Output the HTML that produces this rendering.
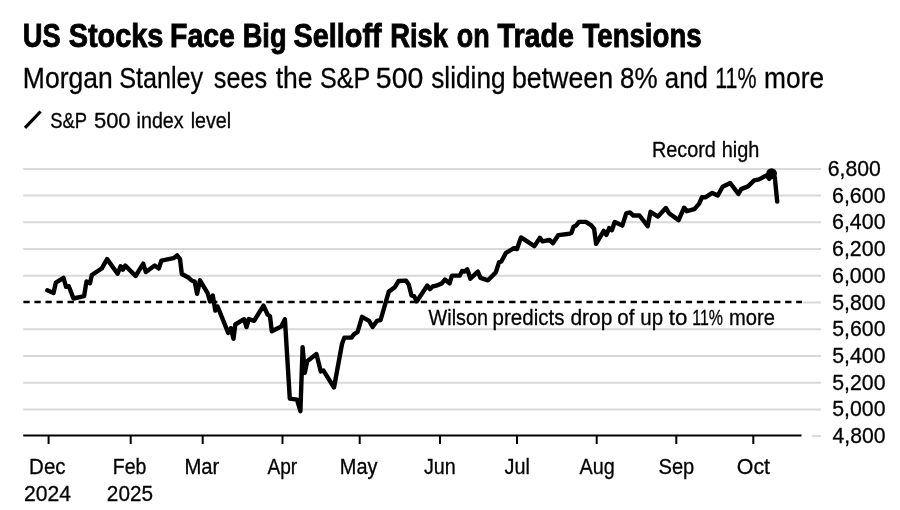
<!DOCTYPE html>
<html><head><meta charset="utf-8">
<style>
html,body{margin:0;padding:0;background:#fff;}
body{width:900px;height:510px;overflow:hidden;position:relative;}
svg{position:absolute;left:0;top:0;font-family:"Liberation Sans",sans-serif;filter:grayscale(1);}
text{fill:#000;} .r{stroke:#000;stroke-width:0.3px;}
</style></head><body>
<svg width="900" height="510" viewBox="0 0 900 510">
<text transform="translate(22.86,46.5) scale(0.8219,1)" font-size="33.2" font-weight="bold" stroke="#000" stroke-width="0.9">US</text>
<text transform="translate(68.66,46.5) scale(0.8701,1)" font-size="33.2" font-weight="bold" stroke="#000" stroke-width="0.9">Stocks</text>
<text transform="translate(170.10,46.5) scale(0.8560,1)" font-size="33.2" font-weight="bold" stroke="#000" stroke-width="0.9">Face</text>
<text transform="translate(242.68,46.5) scale(0.8198,1)" font-size="33.2" font-weight="bold" stroke="#000" stroke-width="0.9">Big</text>
<text transform="translate(293.46,46.5) scale(0.8691,1)" font-size="33.2" font-weight="bold" stroke="#000" stroke-width="0.9">Selloff</text>
<text transform="translate(390.17,46.5) scale(0.8244,1)" font-size="33.2" font-weight="bold" stroke="#000" stroke-width="0.9">Risk</text>
<text transform="translate(456.75,46.5) scale(0.8115,1)" font-size="33.2" font-weight="bold" stroke="#000" stroke-width="0.9">on</text>
<text transform="translate(497.48,46.5) scale(0.8635,1)" font-size="33.2" font-weight="bold" stroke="#000" stroke-width="0.9">Trade</text>
<text transform="translate(582.50,46.5) scale(0.8316,1)" font-size="33.2" font-weight="bold" stroke="#000" stroke-width="0.9">Tensions</text>

<text transform="translate(22.83,87.7) scale(0.8837,1)" font-size="30" font-weight="normal" class="r">Morgan</text>
<text transform="translate(119.17,87.7) scale(0.8404,1)" font-size="30" font-weight="normal" class="r">Stanley</text>
<text transform="translate(213.79,87.7) scale(0.8415,1)" font-size="30" font-weight="normal" class="r">sees</text>
<text transform="translate(275.70,87.7) scale(0.8840,1)" font-size="30" font-weight="normal" class="r">the</text>
<text transform="translate(319.97,87.7) scale(0.8373,1)" font-size="30" font-weight="normal" class="r">S&amp;P</text>
<text transform="translate(375.86,87.7) scale(0.9482,1)" font-size="30" font-weight="normal" class="r">500</text>
<text transform="translate(431.27,87.7) scale(0.8737,1)" font-size="30" font-weight="normal" class="r">sliding</text>
<text transform="translate(511.89,87.7) scale(0.8927,1)" font-size="30" font-weight="normal" class="r">between</text>
<text transform="translate(619.98,87.7) scale(0.8681,1)" font-size="30" font-weight="normal" class="r">8%</text>
<text transform="translate(664.81,87.7) scale(0.8621,1)" font-size="30" font-weight="normal" class="r">and</text>
<text transform="translate(715.17,87.7) scale(0.7140,1)" font-size="30" font-weight="normal" class="r">11%</text>
<text transform="translate(764.06,87.7) scale(0.8779,1)" font-size="30" font-weight="normal" class="r">more</text>

<line x1="25" y1="127.8" x2="40.6" y2="111.5" stroke="#000" stroke-width="3.2"/>
<text transform="translate(50.17,127.9) scale(0.8198,1)" font-size="22.5" font-weight="normal" class="r">S&amp;P</text>
<text transform="translate(93.92,127.9) scale(0.9762,1)" font-size="22.5" font-weight="normal" class="r">500</text>
<text transform="translate(136.58,127.9) scale(0.8762,1)" font-size="22.5" font-weight="normal" class="r">index</text>
<text transform="translate(190.68,127.9) scale(0.8764,1)" font-size="22.5" font-weight="normal" class="r">level</text>

<line x1="23.2" x2="821" y1="168.90" y2="168.90" stroke="#d9d9d9" stroke-width="2"/>
<line x1="23.2" x2="821" y1="195.62" y2="195.62" stroke="#d9d9d9" stroke-width="2"/>
<line x1="23.2" x2="821" y1="222.34" y2="222.34" stroke="#d9d9d9" stroke-width="2"/>
<line x1="23.2" x2="821" y1="249.06" y2="249.06" stroke="#d9d9d9" stroke-width="2"/>
<line x1="23.2" x2="821" y1="275.78" y2="275.78" stroke="#d9d9d9" stroke-width="2"/>
<line x1="802.5" x2="821" y1="302.50" y2="302.50" stroke="#d9d9d9" stroke-width="2"/>
<line x1="23.2" x2="821" y1="329.22" y2="329.22" stroke="#d9d9d9" stroke-width="2"/>
<line x1="23.2" x2="821" y1="355.94" y2="355.94" stroke="#d9d9d9" stroke-width="2"/>
<line x1="23.2" x2="821" y1="382.66" y2="382.66" stroke="#d9d9d9" stroke-width="2"/>
<line x1="23.2" x2="821" y1="409.38" y2="409.38" stroke="#d9d9d9" stroke-width="2"/>
<line x1="811.8" x2="821" y1="436.10" y2="436.10" stroke="#d9d9d9" stroke-width="2"/>

<line x1="23.2" x2="801.5" y1="435.6" y2="435.6" stroke="#000" stroke-width="2"/>
<line x1="48.6" x2="48.6" y1="435" y2="444" stroke="#000" stroke-width="2"/>
<text transform="translate(29.12,473.5) scale(0.9422,1)" font-size="21.8" font-weight="normal" class="r">Dec</text>
<text transform="translate(23.94,501.4) scale(0.9688,1)" font-size="21.8" font-weight="normal" class="r">2024</text>
<line x1="130.7" x2="130.7" y1="435" y2="444" stroke="#000" stroke-width="2"/>
<text transform="translate(112.80,473.5) scale(0.8951,1)" font-size="21.8" font-weight="normal" class="r">Feb</text>
<text transform="translate(106.86,501.4) scale(0.9510,1)" font-size="21.8" font-weight="normal" class="r">2025</text>
<line x1="202.7" x2="202.7" y1="435" y2="444" stroke="#000" stroke-width="2"/>
<text transform="translate(184.44,473.5) scale(0.9293,1)" font-size="21.8" font-weight="normal" class="r">Mar</text>
<line x1="282.5" x2="282.5" y1="435" y2="444" stroke="#000" stroke-width="2"/>
<text transform="translate(267.46,473.5) scale(0.8769,1)" font-size="21.8" font-weight="normal" class="r">Apr</text>
<line x1="359.7" x2="359.7" y1="435" y2="444" stroke="#000" stroke-width="2"/>
<text transform="translate(339.86,473.5) scale(0.9149,1)" font-size="21.8" font-weight="normal" class="r">May</text>
<line x1="440" x2="440" y1="435" y2="444" stroke="#000" stroke-width="2"/>
<text transform="translate(423.98,473.5) scale(0.9048,1)" font-size="21.8" font-weight="normal" class="r">Jun</text>
<line x1="517" x2="517" y1="435" y2="444" stroke="#000" stroke-width="2"/>
<text transform="translate(504.48,473.5) scale(0.9098,1)" font-size="21.8" font-weight="normal" class="r">Jul</text>
<line x1="596.7" x2="596.7" y1="435" y2="444" stroke="#000" stroke-width="2"/>
<text transform="translate(579.56,473.5) scale(0.9105,1)" font-size="21.8" font-weight="normal" class="r">Aug</text>
<line x1="676.3" x2="676.3" y1="435" y2="444" stroke="#000" stroke-width="2"/>
<text transform="translate(658.50,473.5) scale(0.9218,1)" font-size="21.8" font-weight="normal" class="r">Sep</text>
<line x1="753.3" x2="753.3" y1="435" y2="444" stroke="#000" stroke-width="2"/>
<text transform="translate(736.80,473.5) scale(0.9803,1)" font-size="21.8" font-weight="normal" class="r">Oct</text>

<text transform="translate(827.82,176.0) scale(0.9630,1)" font-size="22" font-weight="normal" class="r">6,800</text>
<text transform="translate(832.01,202.72) scale(0.9724,1)" font-size="22" font-weight="normal" class="r">6,600</text>
<text transform="translate(832.01,229.44) scale(0.9724,1)" font-size="22" font-weight="normal" class="r">6,400</text>
<text transform="translate(832.01,256.16) scale(0.9724,1)" font-size="22" font-weight="normal" class="r">6,200</text>
<text transform="translate(832.01,282.88) scale(0.9724,1)" font-size="22" font-weight="normal" class="r">6,000</text>
<text transform="translate(832.25,309.6) scale(0.9680,1)" font-size="22" font-weight="normal" class="r">5,800</text>
<text transform="translate(832.25,336.32) scale(0.9680,1)" font-size="22" font-weight="normal" class="r">5,600</text>
<text transform="translate(832.25,363.04) scale(0.9680,1)" font-size="22" font-weight="normal" class="r">5,400</text>
<text transform="translate(832.25,389.76) scale(0.9680,1)" font-size="22" font-weight="normal" class="r">5,200</text>
<text transform="translate(832.25,416.48) scale(0.9680,1)" font-size="22" font-weight="normal" class="r">5,000</text>
<text transform="translate(832.61,443.2) scale(0.9613,1)" font-size="22" font-weight="normal" class="r">4,800</text>

<line x1="23.4" x2="802" y1="302" y2="302" stroke="#000" stroke-width="2.4" stroke-dasharray="6.3 4.74"/>
<text transform="translate(428.62,324.7) scale(0.9077,1)" font-size="21.8" font-weight="normal" class="r">Wilson</text>
<text transform="translate(492.59,324.7) scale(0.9414,1)" font-size="21.8" font-weight="normal" class="r">predicts</text>
<text transform="translate(570.42,324.7) scale(0.9643,1)" font-size="21.8" font-weight="normal" class="r">drop</text>
<text transform="translate(617.24,324.7) scale(0.9429,1)" font-size="21.8" font-weight="normal" class="r">of</text>
<text transform="translate(640.37,324.7) scale(0.9403,1)" font-size="21.8" font-weight="normal" class="r">up</text>
<text transform="translate(668.87,324.7) scale(1.0213,1)" font-size="21.8" font-weight="normal" class="r">to</text>
<text transform="translate(692.29,324.7) scale(0.7300,1)" font-size="21.8" font-weight="normal" class="r">11%</text>
<text transform="translate(729.07,324.7) scale(0.9246,1)" font-size="21.8" font-weight="normal" class="r">more</text>

<text transform="translate(651.97,156.7) scale(0.9363,1)" font-size="21.2" font-weight="normal" class="r">Record</text>
<text transform="translate(721.72,156.7) scale(0.9402,1)" font-size="21.2" font-weight="normal" class="r">high</text>

<path d="M47.3 290.3 L53.5 293.0 L55.9 282.6 L63.5 277.9 L66.1 286.8 L68.8 286.2 L73.5 298.5 L84.1 296.2 L86.5 281.5 L90.0 283.2 L91.8 275.0 L101.8 268.4 L107.1 259.1 L117.6 273.8 L120.6 266.2 L122.9 269.7 L125.3 265.6 L135.6 276.0 L143.2 263.6 L145.9 272.1 L154.7 265.6 L158.8 268.5 L161.4 260.6 L173.5 258.2 L177.1 255.4 L180.0 259.1 L181.8 274.0 L188.8 277.8 L191.6 280.5 L194.7 281.6 L197.1 293.8 L200.0 280.3 L207.6 293.2 L210.0 301.5 L212.8 295.5 L215.3 310.6 L217.6 306.5 L228.2 332.9 L230.8 328.2 L233.5 338.8 L235.3 324.5 L244.1 319.2 L246.5 327.1 L248.8 319.1 L254.1 320.8 L263.5 305.6 L267.6 314.5 L270.0 316.3 L271.8 331.2 L281.2 326.5 L284.9 319.2 L289.8 398.6 L297.0 399.6 L300.4 411.2 L302.6 347.2 L304.8 372.8 L307.2 361.2 L316.4 354.0 L320.8 371.4 L323.5 370.6 L334.0 387.5 L342.0 344.0 L344.4 337.6 L351.5 337.6 L354.1 334.1 L357.6 332.0 L362.0 316.8 L369.1 320.8 L372.6 327.0 L377.0 320.8 L380.6 320.0 L388.8 291.6 L391.6 289.6 L394.7 287.3 L398.6 281.0 L406.1 280.6 L408.8 284.7 L411.4 295.3 L414.1 296.2 L416.7 301.4 L427.3 285.6 L430.0 289.1 L432.6 286.5 L436.3 285.7 L441.8 283.4 L444.9 279.5 L449.6 283.4 L451.9 275.6 L459.8 275.6 L462.1 270.9 L464.5 271.6 L467.3 269.3 L470.4 278.7 L477.8 271.6 L480.5 277.9 L488.0 280.3 L495.8 272.4 L499.0 262.3 L501.3 261.5 L506.0 252.9 L513.9 248.2 L517.0 249.0 L521.0 237.4 L534.4 246.1 L539.9 237.8 L542.6 241.3 L549.5 239.9 L552.9 243.3 L558.4 235.1 L569.4 233.7 L571.4 233.0 L573.5 226.7 L576.2 225.4 L579.0 221.9 L585.8 221.9 L591.3 225.4 L594.1 228.8 L596.1 243.9 L603.7 230.9 L606.4 235.0 L609.2 228.1 L611.9 230.2 L614.7 222.0 L622.3 225.6 L626.3 213.3 L629.9 212.4 L633.3 215.5 L639.5 215.5 L647.7 226.2 L650.5 211.8 L658.0 216.6 L665.8 208.0 L669.0 213.2 L678.6 220.1 L684.1 207.7 L686.8 211.2 L694.4 209.1 L699.2 203.6 L702.0 197.2 L705.3 197.4 L712.3 192.9 L717.8 195.5 L722.6 186.8 L730.2 183.0 L738.4 193.9 L741.2 189.1 L748.0 186.4 L754.2 180.4 L759.0 179.4 L766.5 175.4 L769.3 178.8 L772.0 174.0 L774.8 177.5 L777.2 201.5" fill="none" stroke="#000" stroke-width="4.4" stroke-linejoin="round" stroke-linecap="round"/>
<circle cx="771.6" cy="173.6" r="5.4" fill="#000"/>
</svg>
</body></html>
